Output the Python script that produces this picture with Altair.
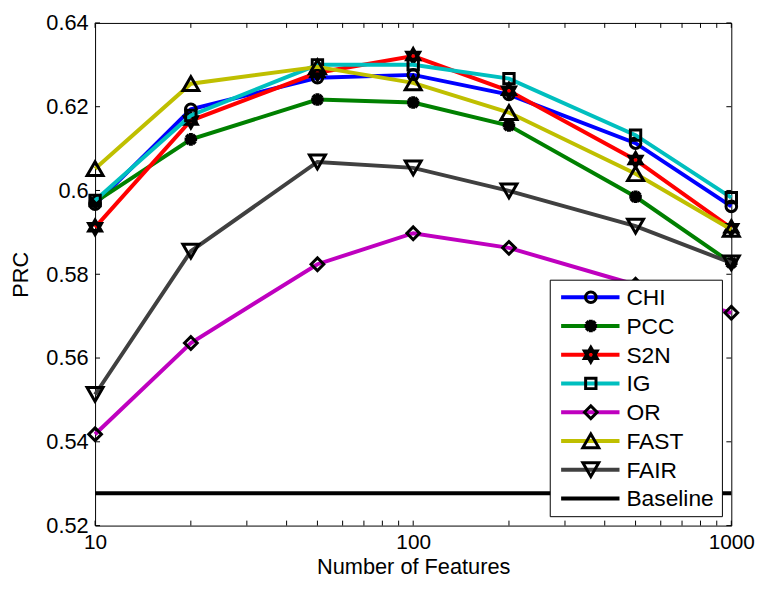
import altair as alt
import pandas as pd

# ---- data ----
features = [10, 20, 50, 100, 200, 500, 1000]
methods = ["CHI", "PCC", "S2N", "IG", "OR", "FAST", "FAIR"]
chi  = [0.5967, 0.6194, 0.6269, 0.6276, 0.6229, 0.6113, 0.5962]
pcc  = [0.5972, 0.6122, 0.6217, 0.6210, 0.6155, 0.5985, 0.5827]
s2n  = [0.5912, 0.6167, 0.6281, 0.6321, 0.6238, 0.6073, 0.5910]
ig   = [0.5976, 0.6179, 0.6300, 0.6300, 0.6267, 0.6132, 0.5983]
orr  = [0.5418, 0.5636, 0.5824, 0.5898, 0.5863, 0.5775, 0.5708]
fast = [0.6052, 0.6255, 0.6295, 0.6257, 0.6186, 0.6040, 0.5907]
fair = [0.5513, 0.5855, 0.6068, 0.6054, 0.5999, 0.5915, 0.5827]
baseline = [0.5277]
y_tick_values = [0.52, 0.54, 0.56, 0.58, 0.60, 0.62, 0.64]
x_label_values = [10, 100, 1000]
x_tick_values = [10, 20, 30, 40, 50, 60, 70, 80, 90, 100,
                 200, 300, 400, 500, 600, 700, 800, 900, 1000]

series = [chi, pcc, s2n, ig, orr, fast, fair]

colors = {"CHI": "#0000FF", "PCC": "#008000", "S2N": "#FF0000", "IG": "#00BFBF",
          "OR": "#BF00BF", "FAST": "#BFBF00", "FAIR": "#404040", "Baseline": "#000000"}
asterisk = "M-1,0L1,0M0,-1L0,1M-0.72,-0.72L0.72,0.72M-0.72,0.72L0.72,-0.72"
hexagram = "M0,-1L0.866,0.5L-0.866,0.5Z M0,1L0.866,-0.5L-0.866,-0.5Z"
shapes = {"CHI": "circle", "PCC": asterisk, "S2N": hexagram, "IG": "square",
          "OR": "diamond", "FAST": "triangle-up", "FAIR": "triangle-down"}
sizes = {"CHI": 115, "PCC": 160, "S2N": 200, "IG": 110, "OR": 165,
         "FAST": 260, "FAIR": 260}
swidth = {"CHI": 3, "PCC": 4, "S2N": 3.5, "IG": 3, "OR": 3, "FAST": 3, "FAIR": 3}

W, H = 643, 508
FONT = "Liberation Sans"

rows = []
for m, vals in zip(methods, series):
    for f, v in zip(features, vals):
        rows.append({"method": m, "features": f, "prc": v})
df = pd.DataFrame(rows)

xs = alt.Scale(type="log", domain=[10, 1000], nice=False)
ys = alt.Scale(domain=[0.52, 0.64], nice=False, zero=False)

X = alt.X("features:Q", scale=xs,
          axis=alt.Axis(values=x_label_values, format="d", title="Number of Features",
                        labelPadding=6, labelFlush=False, labelFontSize=21,
                        titleY=41, titleBaseline="middle"))
Y = alt.Y("prc:Q", scale=ys,
          axis=alt.Axis(values=y_tick_values, format="~g", title="PRC",
                        labelPadding=7, labelFlush=False, labelFontSize=22,
                        titleX=-75, titleY=254,
                        titleAngle=-90, titleAlign="center", titleBaseline="middle"))

layers = []

# baseline
layers.append(alt.Chart(pd.DataFrame({"prc": baseline})).mark_rule(
    color="black", strokeWidth=4).encode(y=alt.Y("prc:Q", scale=ys)))

for m in methods:
    base = alt.Chart(df).transform_filter(alt.datum.method == m).encode(x=X, y=Y)
    layers.append(base.mark_line(color=colors[m], strokeWidth=4))
    layers.append(base.mark_point(shape=shapes[m], size=sizes[m], filled=False,
                                  stroke="black", strokeWidth=swidth[m], opacity=1))

# inward ticks
ydf = pd.DataFrame({"prc": y_tick_values})
xdf = pd.DataFrame({"features": x_tick_values})
TL = 5
layers.append(alt.Chart(ydf).mark_rule(color="black", strokeWidth=1).encode(
    y=alt.Y("prc:Q", scale=ys), x=alt.value(0), x2=alt.value(TL)))
layers.append(alt.Chart(ydf).mark_rule(color="black", strokeWidth=1).encode(
    y=alt.Y("prc:Q", scale=ys), x=alt.value(W), x2=alt.value(W - TL)))
layers.append(alt.Chart(xdf).mark_rule(color="black", strokeWidth=1).encode(
    x=alt.X("features:Q", scale=xs), y=alt.value(H), y2=alt.value(H - TL)))
layers.append(alt.Chart(xdf).mark_rule(color="black", strokeWidth=1).encode(
    x=alt.X("features:Q", scale=xs), y=alt.value(0), y2=alt.value(TL)))

# legend
dummy = alt.Chart(pd.DataFrame({"a": [0]}))
LX0, LX1, LY0, LY1 = 460, 634, 260, 499
layers.append(dummy.mark_rect(fill="white", stroke="black", strokeWidth=1).encode(
    x=alt.value(LX0), x2=alt.value(LX1), y=alt.value(LY0), y2=alt.value(LY1)))
legend_names = methods + ["Baseline"]
for i, m in enumerate(legend_names):
    ly = 277.2 + i * 29.05
    layers.append(dummy.mark_rule(color=colors[m], strokeWidth=4).encode(
        x=alt.value(471), x2=alt.value(530), y=alt.value(ly)))
    if m in shapes:
        layers.append(dummy.mark_point(shape=shapes[m], size=sizes[m], filled=False,
                                       stroke="black", strokeWidth=swidth[m],
                                       opacity=1).encode(
            x=alt.value(501), y=alt.value(ly)))
    layers.append(dummy.mark_text(align="left", baseline="middle", font=FONT,
                                  fontSize=23, color="black").encode(
        x=alt.value(537), y=alt.value(ly + 1), text=alt.value(m)))

chart = alt.layer(*layers).properties(
    width=W, height=H,
    autosize=alt.AutoSizeParams(type="none"),
    padding={"left": 88, "top": 12, "right": 30, "bottom": 61},
    background="white",
).configure_view(stroke="black", strokeWidth=1).configure_axis(
    grid=False, ticks=False, domain=False,
    labelFont=FONT, labelColor="black",
    titleFont=FONT, titleFontSize=22, titleColor="black", titleFontWeight="normal",
)

chart.save("out.html", embed_options={"renderer": "svg", "actions": False})
